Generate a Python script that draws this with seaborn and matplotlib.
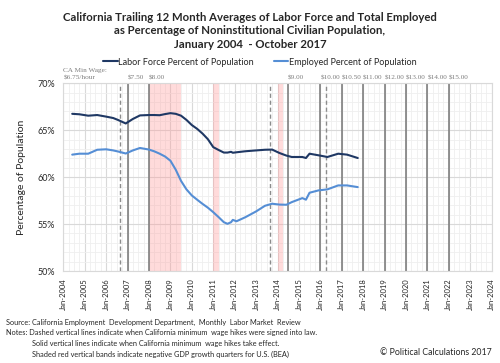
import matplotlib
matplotlib.use("Agg")
import matplotlib.pyplot as plt
import matplotlib.dates as mdates
from matplotlib.ticker import MultipleLocator, FuncFormatter
import seaborn as sns
import pandas as pd

# --- data ---
months = ["2004-06", "2004-10", "2005-03", "2005-08", "2006-01", "2006-05", "2006-08",
          "2006-12", "2007-04", "2007-08", "2008-01", "2008-04", "2008-07", "2008-10",
          "2009-01", "2009-04", "2009-07", "2009-10", "2010-01", "2010-04", "2010-07",
          "2010-10", "2011-01", "2011-04", "2011-07", "2011-09", "2011-11", "2011-12",
          "2012-02", "2012-07", "2013-01", "2013-06", "2013-10", "2014-02", "2014-06",
          "2014-09", "2015-03", "2015-05", "2015-07", "2015-12", "2016-05", "2016-11",
          "2017-04", "2017-10"]
labor_force = [66.75, 66.70, 66.55, 66.62, 66.45, 66.30, 66.07,
               65.72, 66.20, 66.58, 66.62, 66.62, 66.60, 66.72,
               66.82, 66.75, 66.55, 66.10, 65.55, 65.15, 64.65,
               64.05, 63.20, 62.90, 62.62, 62.62, 62.70, 62.60,
               62.65, 62.76, 62.85, 62.92, 62.94, 62.58, 62.30,
               62.15, 62.15, 62.04, 62.50, 62.33, 62.15, 62.50,
               62.40, 62.04]
employed = [62.40, 62.50, 62.50, 62.92, 62.97, 62.85, 62.72,
            62.52, 62.85, 63.11, 62.94, 62.75, 62.50, 62.20,
            61.75, 60.80, 59.60, 58.70, 58.05, 57.60, 57.16,
            56.75, 56.27, 55.75, 55.20, 55.03, 55.20, 55.45,
            55.30, 55.73, 56.35, 56.95, 57.17, 57.08, 57.06,
            57.34, 57.77, 57.60, 58.34, 58.59, 58.70, 59.12,
            59.12, 58.94]

# minimum wage hikes: signed (dashed) and effective (solid)
signed_dates = ["2006-09", "2013-09", "2016-04"]
effect_dates = ["2007-01", "2008-01", "2014-07", "2016-01", "2017-01",
                "2018-01", "2019-01", "2020-01", "2021-01", "2022-01"]
wage_labels = ["$7.50", "$8.00", "$9.00", "$10.00", "$10.50",
               "$11.00", "$12.00", "$13.00", "$14.00", "$15.00"]

# negative GDP quarters (shaded)
recess_start = ["2008-01", "2011-01", "2014-01"]
recess_end = ["2009-07", "2011-04", "2014-04"]

series_names = ["Labor Force Percent of Population", "Employed Percent of Population"]
colors = ["#1F3864", "#558ED5"]

df = pd.DataFrame({
    "date": pd.to_datetime(months * 2),
    "value": labor_force + employed,
    "series": [series_names[0]] * len(months) + [series_names[1]] * len(months),
})

sns.set_style("white")
plt.rcParams["font.family"] = ["Lato", "DejaVu Sans"]

fig = plt.figure(figsize=(5, 3.63), dpi=100)
ax = fig.add_axes([0.1266, 0.2534, 0.8567, 0.5171])

# shaded bands
for s, e in zip(recess_start, recess_end):
    ax.axvspan(pd.Timestamp(s), pd.Timestamp(e), color="#FF9999", alpha=0.35, lw=0, zorder=1)

# wage lines
for d in signed_dates:
    ax.axvline(pd.Timestamp(d), color="#8C8C8C", lw=1.0, ls=(0, (3, 2)), zorder=2)
for d, lab in zip(effect_dates, wage_labels):
    ax.axvline(pd.Timestamp(d), color="#808080", lw=1.2, zorder=2)
    ax.text(pd.Timestamp(d), 70.35, lab, fontsize=5.2, color="#7F7F7F",
            family="Liberation Serif", ha="left", va="bottom")
ax.text(pd.Timestamp("2004-01"), 70.35, "CA Min Wage:\n$6.75/hour", fontsize=5.2,
        color="#7F7F7F", family="Liberation Serif", ha="left", va="bottom",
        linespacing=1.5)

sns.lineplot(data=df, x="date", y="value", hue="series", palette=colors,
             linewidth=1.5, ax=ax, legend=True, zorder=3)

ax.set_xlim(pd.Timestamp("2004-01-01"), pd.Timestamp("2024-01-01"))
ax.set_ylim(50, 70)
ax.xaxis.set_major_locator(mdates.YearLocator())
ax.xaxis.set_minor_locator(mdates.MonthLocator(bymonth=[4, 7, 10]))
ax.xaxis.set_major_formatter(mdates.DateFormatter("Jan-%Y"))
ax.yaxis.set_major_locator(MultipleLocator(5))
ax.yaxis.set_minor_locator(MultipleLocator(1))
ax.yaxis.set_major_formatter(FuncFormatter(lambda v, p: f"{v:.0f}%"))

ax.grid(which="major", color="#D9D9D9", lw=0.8, zorder=0)
ax.grid(which="minor", color="#EFEFEF", lw=0.6, zorder=0)
ax.set_axisbelow(True)
for sp in ax.spines.values():
    sp.set_color("#D9D9D9")
    sp.set_linewidth(0.8)

ax.tick_params(axis="x", which="major", labelsize=5.5, rotation=90, length=3,
               color="#BFBFBF", pad=2)
ax.tick_params(axis="x", which="minor", length=0)
ax.tick_params(axis="y", which="both", labelsize=6.5, length=0, pad=6)
ax.set_xlabel("")
ax.set_ylabel("Percentage of Population", fontsize=7.5, labelpad=8)

handles, labels = ax.get_legend_handles_labels()
ax.get_legend().remove()
fig.legend(handles, labels, loc="center", bbox_to_anchor=(0.52, 0.829), ncol=2,
           frameon=False, fontsize=6.5, handlelength=1.6, handletextpad=0.1,
           columnspacing=2.2)

fig.text(0.5, 0.915, "California Trailing 12 Month Averages of Labor Force and Total Employed\n"
         "as Percentage of Noninstitutional Civilian Population,\n"
         "January 2004  - October 2017", ha="center", va="center",
         fontsize=8.2, fontweight="bold", linespacing=1.3)

foot = 5.3
fig.text(0.012, 0.113, "Source: California Employment  Development Department,  Monthly  Labor Market  Review",
         fontsize=foot, va="center")
fig.text(0.012, 0.083, "Notes: Dashed vertical lines indicate when California minimum  wage hikes were signed into law.",
         fontsize=foot, va="center")
fig.text(0.064, 0.053, "Solid vertical lines indicate when California minimum  wage hikes take effect.",
         fontsize=foot, va="center")
fig.text(0.064, 0.023, "Shaded red vertical bands indicate negative GDP growth quarters for U.S. (BEA)",
         fontsize=foot, va="center")
fig.text(0.984, 0.028, "\u00a9 Political Calculations 2017", fontsize=6.3, ha="right", va="center")

fig.savefig("out.png", dpi=100)
